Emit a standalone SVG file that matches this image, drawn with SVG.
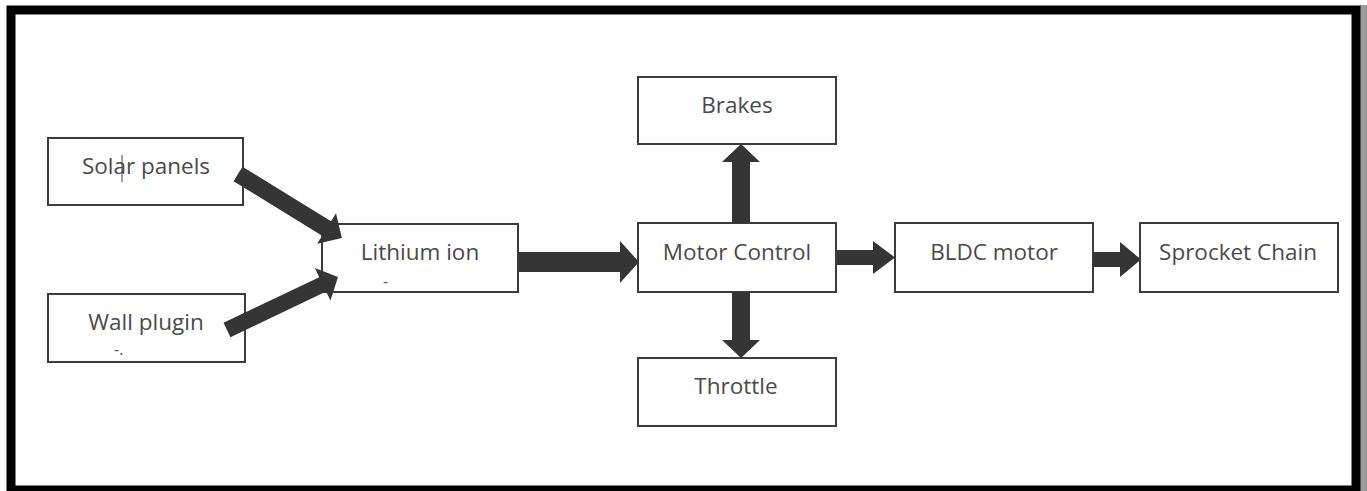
<svg xmlns="http://www.w3.org/2000/svg" width="1367" height="491" viewBox="0 0 1367 491">
  <style>
    .box { fill: #ffffff; stroke: #3c3c3c; stroke-width: 2; }
    .lbl { font-family: "Open Sans", Lato, sans-serif; font-size: 22.5px; fill: #4a4a4a; text-anchor: middle; }
    .arrow { fill: #353535; }
    .mark { font-family: "Open Sans", sans-serif; font-size: 16px; fill: #555; }
  </style>
  <rect x="0" y="0" width="1367" height="491" fill="#ffffff"/>
  <rect x="1360" y="5" width="7" height="486" fill="#9a9a9a"/>
  <rect x="11" y="10" width="1345" height="480" fill="#ffffff" stroke="#000000" stroke-width="9"/>

  <g id="solar">
    <rect class="box" x="48" y="138" width="195" height="67"/>
    <text class="lbl" x="146" y="174">Solar panels</text>
    <line x1="122" y1="155" x2="122" y2="182" stroke="#444" stroke-width="1"/>
  </g>
  <g id="wall">
    <rect class="box" x="48" y="294" width="197" height="68"/>
    <text class="lbl" x="146" y="330">Wall plugin</text>
    <text class="mark" x="114" y="355">-.</text>
  </g>
  <g id="lithium">
    <rect class="box" x="322" y="224" width="196" height="68"/>
    <text class="lbl" x="420" y="260">Lithium ion</text>
    <text class="mark" x="383" y="287">-</text>
  </g>
  <g id="motor">
    <rect class="box" x="638" y="223" width="198" height="69"/>
    <text class="lbl" x="737" y="260">Motor Control</text>
  </g>
  <g id="brakes">
    <rect class="box" x="638" y="77" width="198" height="67"/>
    <text class="lbl" x="737" y="113">Brakes</text>
  </g>
  <g id="throttle">
    <rect class="box" x="638" y="358" width="198" height="68"/>
    <text class="lbl" x="736" y="394">Throttle</text>
  </g>
  <g id="bldc">
    <rect class="box" x="895" y="223" width="198" height="69"/>
    <text class="lbl" x="994" y="260">BLDC motor</text>
  </g>
  <g id="sprocket">
    <rect class="box" x="1140" y="223" width="198" height="69"/>
    <text class="lbl" x="1238" y="260">Sprocket Chain</text>
  </g>

  <g id="connectors">
    <polygon class="arrow" transform="translate(238,174) rotate(31.6)" points="0,-8.5 104,-8.5 104,-18 122,0 104,18 104,8.5 0,8.5"/>
    <polygon class="arrow" transform="translate(227,330) rotate(-25.5)" points="0,-8 106,-8 106,-18 123,0 106,18 106,8 0,8"/>
    <polygon class="arrow" points="518,252 620,252 620,241 639,262 620,283 620,272 518,272"/>
    <polygon class="arrow" points="732,223 732,162 722,162 741,144 760,162 750,162 750,223"/>
    <polygon class="arrow" points="732,292 732,340 722,340 741,358 760,340 750,340 750,292"/>
    <polygon class="arrow" points="837,250 873,250 873,241 895,257.5 873,274 873,265 837,265"/>
    <polygon class="arrow" points="1093,252 1120,252 1120,242 1141,259.5 1120,277 1120,267 1093,267"/>
  </g>
</svg>
